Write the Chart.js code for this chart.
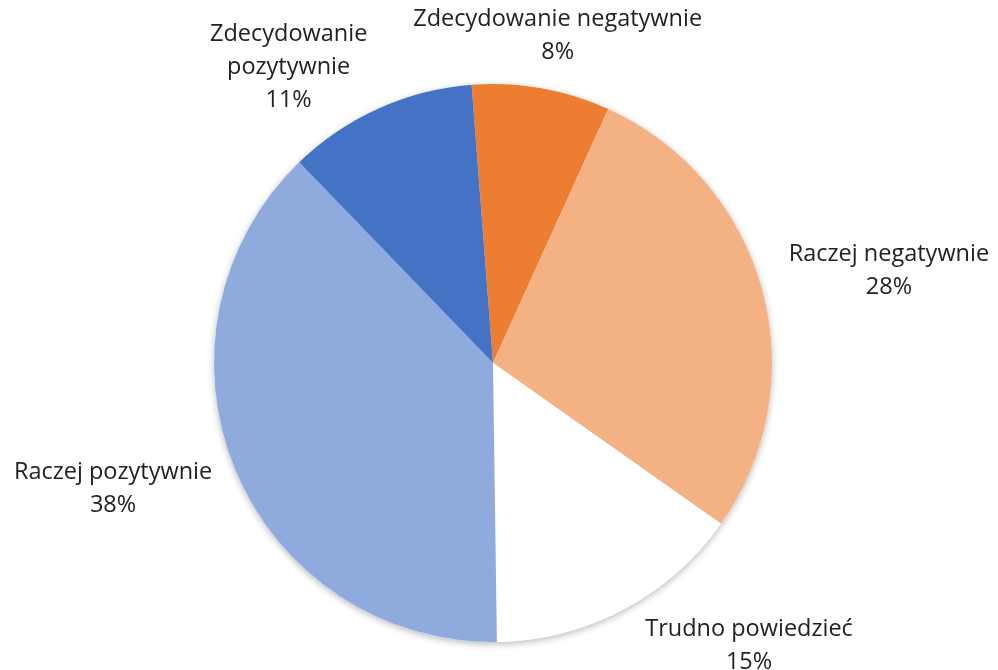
<!DOCTYPE html>
<html>
<head>
<meta charset="utf-8">
<script src="https://cdn.jsdelivr.net/npm/chart.js@4"></script>
<style>
  html, body { margin: 0; padding: 0; background: #fff; }
  #wrap { width: 998px; height: 670px; position: relative; }
</style>
</head>
<body>
<div id="wrap"><canvas id="pie"></canvas></div>
<script>
// --- Data ---
const labels = [
  "Zdecydowanie negatywnie",
  "Raczej negatywnie",
  "Trudno powiedzieć",
  "Raczej pozytywnie",
  "Zdecydowanie pozytywnie",
];
const values = [8, 28, 15, 38, 11];
const colors = ["#ED7D31", "#F4B183", "#FFFFFF", "#8FAADC", "#4472C4"];

// label text lines (wrapped like the original)
const labelLines = [
  ["Zdecydowanie negatywnie"],
  ["Raczej negatywnie"],
  ["Trudno powiedzieć"],
  ["Raczej pozytywnie"],
  ["Zdecydowanie", "pozytywnie"],
];

// small nudges so labels sit where the original put them
const nudges = [[8, -6], [13, 12], [102, -9], [-29, -19], [-62, 21]];

const FONT = '23.5px "Open Sans", sans-serif';
const LINE_H = 33;

// one soft shadow under the whole pie
const shadowPlugin = {
  id: "pieShadow",
  beforeDatasetsDraw(chart) {
    const arc = chart.getDatasetMeta(0).data[0];
    if (!arc) return;
    const ctx = chart.ctx;
    ctx.save();
    ctx.shadowColor = "rgba(0,0,0,0.28)";
    ctx.shadowBlur = 7;
    ctx.shadowOffsetY = 2;
    ctx.fillStyle = "#fff";
    ctx.beginPath();
    ctx.arc(arc.x, arc.y, arc.outerRadius, 0, Math.PI * 2);
    ctx.fill();
    ctx.restore();
  },
};

// outside-end labels
const outsideLabels = {
  id: "outsideLabels",
  afterDraw(chart) {
    const ctx = chart.ctx;
    const meta = chart.getDatasetMeta(0);
    const total = values.reduce((a, b) => a + b, 0);
    ctx.save();
    ctx.font = FONT;
    ctx.fillStyle = "#222222";
    ctx.textAlign = "center";
    ctx.textBaseline = "middle";
    meta.data.forEach((arc, i) => {
      const mid = (arc.startAngle + arc.endAngle) / 2;
      const dx = Math.cos(mid);
      const dy = Math.sin(mid);
      const lines = labelLines[i].concat([Math.round((values[i] / total) * 100) + "%"]);
      const w = Math.max(...lines.map((l) => ctx.measureText(l).width));
      const h = lines.length * LINE_H;
      const gap = 14;
      const ax = arc.x + (arc.outerRadius + gap) * dx;
      const ay = arc.y + (arc.outerRadius + gap) * dy;
      const push = Math.min(
        Math.abs(dx) > 1e-6 ? w / 2 / Math.abs(dx) : Infinity,
        Math.abs(dy) > 1e-6 ? h / 2 / Math.abs(dy) : Infinity
      );
      const cx = ax + dx * push + nudges[i][0];
      const cy = ay + dy * push + nudges[i][1];
      lines.forEach((l, k) => {
        ctx.fillText(l, cx, cy - h / 2 + LINE_H / 2 + k * LINE_H);
      });
    });
    ctx.restore();
  },
};

new Chart(document.getElementById("pie"), {
  type: "pie",
  data: {
    labels: labels,
    datasets: [
      {
        data: values,
        backgroundColor: colors,
        borderWidth: 0,
      },
    ],
  },
  options: {
    responsive: true,
    maintainAspectRatio: false,
    animation: false,
    rotation: -4.4,
    layout: { padding: { left: 214, right: 226, top: 84, bottom: 28 } },
    plugins: {
      legend: { display: false },
      tooltip: { enabled: false },
    },
  },
  plugins: [shadowPlugin, outsideLabels],
});
</script>
</body>
</html>
